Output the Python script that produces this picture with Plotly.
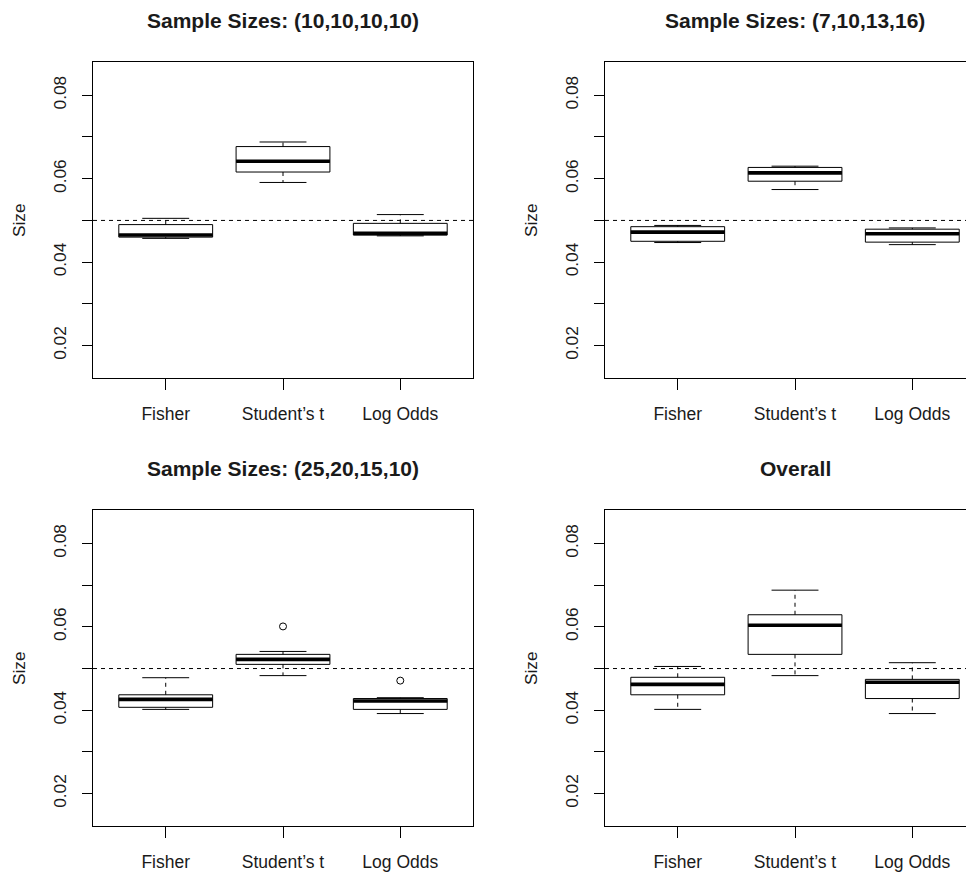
import plotly.graph_objects as go

# ---------------- data ----------------
methods = ["Fisher", "Student’s t", "Log Odds"]
positions = [1, 2, 3]
panel_titles = [
    "Sample Sizes: (10,10,10,10)",
    "Sample Sizes: (7,10,13,16)",
    "Sample Sizes: (25,20,15,10)",
    "Overall",
]
nominal_size = 0.05
y_tick_values = [0.02, 0.03, 0.04, 0.05, 0.06, 0.07, 0.08]
y_tick_labels = ["0.02", "", "0.04", "", "0.06", "", "0.08"]

# panel 1: (10,10,10,10)
p1_lower = [0.0457, 0.0591, 0.0463]
p1_q1 = [0.0460, 0.0616, 0.0465]
p1_median = [0.0465, 0.0642, 0.0469]
p1_q3 = [0.0490, 0.0677, 0.0493]
p1_upper = [0.0505, 0.0688, 0.0514]
p1_outliers = [[], [], []]

# panel 2: (7,10,13,16)
p2_lower = [0.0447, 0.0574, 0.0442]
p2_q1 = [0.0450, 0.0594, 0.0448]
p2_median = [0.0472, 0.0614, 0.0468]
p2_q3 = [0.0485, 0.0627, 0.0479]
p2_upper = [0.0488, 0.0630, 0.0482]
p2_outliers = [[], [], []]

# panel 3: (25,20,15,10)
p3_lower = [0.0402, 0.0483, 0.0392]
p3_q1 = [0.0407, 0.0510, 0.0402]
p3_median = [0.0426, 0.0522, 0.0422]
p3_q3 = [0.0437, 0.0534, 0.0428]
p3_upper = [0.0478, 0.0541, 0.0430]
p3_outliers = [[], [0.0601], [0.0471]]

# panel 4: overall
p4_lower = [0.0402, 0.0483, 0.0392]
p4_q1 = [0.0437, 0.0534, 0.0428]
p4_median = [0.0462, 0.0604, 0.0467]
p4_q3 = [0.0479, 0.0629, 0.0474]
p4_upper = [0.0505, 0.0688, 0.0514]
p4_outliers = [[], [], []]

panels = [
    (p1_lower, p1_q1, p1_median, p1_q3, p1_upper, p1_outliers),
    (p2_lower, p2_q1, p2_median, p2_q3, p2_upper, p2_outliers),
    (p3_lower, p3_q1, p3_median, p3_q3, p3_upper, p3_outliers),
    (p4_lower, p4_q1, p4_median, p4_q3, p4_upper, p4_outliers),
]

# ---------------- layout geometry ----------------
# the page body has an 8px margin, so the figure is drawn 8px smaller
# and all page-pixel positions are shifted by that offset
OFF = 8
W, H = 974 - OFF, 872 - OFF
plot_px_page = [(93, 473, 62, 379), (605, 974, 62, 379),
                (93, 473, 511.3, 828), (605, 974, 511.3, 828)]
plot_px = [(a - OFF, b - OFF, c - OFF, d - OFF) for a, b, c, d in plot_px_page]
x_ranges = [[0.38, 3.62], [0.38, 3.526], [0.38, 3.62], [0.38, 3.526]]
y_range = [0.0122, 0.0880]
box_width = 0.8
cap_half = 0.2

FONT = "Liberation Sans, Arial, Helvetica, sans-serif"
TXT = "#1a1a1a"
DASH = "4px,4px"

fig = go.Figure()
layout = dict(
    width=W, height=H, margin=dict(l=0, r=0, t=0, b=0),
    paper_bgcolor="white", plot_bgcolor="white", showlegend=False,
    font=dict(family=FONT, color=TXT, size=17.3),
)
shapes = []
annotations = []

for k, (lo, q1, med, q3, hi, outs) in enumerate(panels):
    idx = "" if k == 0 else str(k + 1)
    xa, ya = "x" + idx, "y" + idx
    x0, x1, y0, y1 = plot_px[k]
    for i, pos in enumerate(positions):
        fig.add_trace(go.Box(
            x=[pos], q1=[q1[i]], median=[med[i]], q3=[q3[i]],
            lowerfence=[q1[i]], upperfence=[q3[i]], orientation="v",
            width=box_width, whiskerwidth=0, boxpoints=False,
            fillcolor="white", line=dict(color="black", width=1),
            xaxis=xa, yaxis=ya, hoverinfo="skip"))
        # whiskers (dashed)
        for a, b in ((q3[i], hi[i]), (q1[i], lo[i])):
            fig.add_trace(go.Scatter(
                x=[pos, pos], y=[a, b], mode="lines",
                line=dict(color="black", width=1, dash=DASH),
                xaxis=xa, yaxis=ya, hoverinfo="skip"))
        # caps
        for v in (hi[i], lo[i]):
            fig.add_trace(go.Scatter(
                x=[pos - cap_half, pos + cap_half], y=[v, v], mode="lines",
                line=dict(color="black", width=1),
                xaxis=xa, yaxis=ya, hoverinfo="skip"))
        # median
        fig.add_trace(go.Scatter(
            x=[pos - box_width / 2, pos + box_width / 2], y=[med[i], med[i]],
            mode="lines", line=dict(color="black", width=3.6),
            xaxis=xa, yaxis=ya, hoverinfo="skip"))
        if outs[i]:
            fig.add_trace(go.Scatter(
                x=[pos] * len(outs[i]), y=outs[i], mode="markers",
                marker=dict(symbol="circle-open", size=7,
                            color="black", line=dict(width=1, color="black")),
                xaxis=xa, yaxis=ya, hoverinfo="skip"))

    right_panel = k % 2 == 1
    layout["xaxis" + idx] = dict(
        domain=[x0 / W, min(x1 / W, 1.0)], range=x_ranges[k], anchor=ya,
        tickvals=positions, ticktext=methods, ticks="outside", ticklen=11,
        tickcolor="black", tickwidth=1, showline=True, linecolor="black",
        linewidth=1, mirror=True, showgrid=False, zeroline=False,
        ticklabelstandoff=9, tickfont=dict(size=17.5, family=FONT, color=TXT),
    )
    layout["yaxis" + idx] = dict(
        domain=[1 - y1 / H, 1 - y0 / H], range=y_range, anchor=xa,
        tickvals=y_tick_values, ticktext=y_tick_labels, ticks="outside",
        ticklen=10, tickcolor="black", tickwidth=1, tickangle=-90,
        showline=True, linecolor="black", linewidth=1,
        mirror=not right_panel, showgrid=False, zeroline=False,
        ticklabelstandoff=9, tickfont=dict(size=17.3, family=FONT, color=TXT),
    )
    shapes.append(dict(
        type="line", xref=xa + " domain", x0=0, x1=1, yref=ya,
        y0=nominal_size, y1=nominal_size,
        line=dict(color="black", width=1, dash=DASH), layer="above"))
    title_x = (x0 + (x0 + 380)) / 2
    title_y = (21 if k < 2 else 470) - OFF
    annotations.append(dict(
        text="<b>" + panel_titles[k] + "</b>", xref="paper", yref="paper",
        x=title_x / W, y=1 - title_y / H, xanchor="center", yanchor="middle",
        showarrow=False, font=dict(size=21, family=FONT, color=TXT)))
    label_x = (19 if not right_panel else 531) - OFF
    annotations.append(dict(
        text="Size", xref="paper", yref="paper",
        x=label_x / W, y=1 - ((y0 + y1) / 2) / H, xanchor="center",
        yanchor="middle", textangle=-90, showarrow=False,
        font=dict(size=17.3, family=FONT, color=TXT)))

layout["shapes"] = shapes
layout["annotations"] = annotations
fig.update_layout(**layout)
fig.write_html("out.html")
